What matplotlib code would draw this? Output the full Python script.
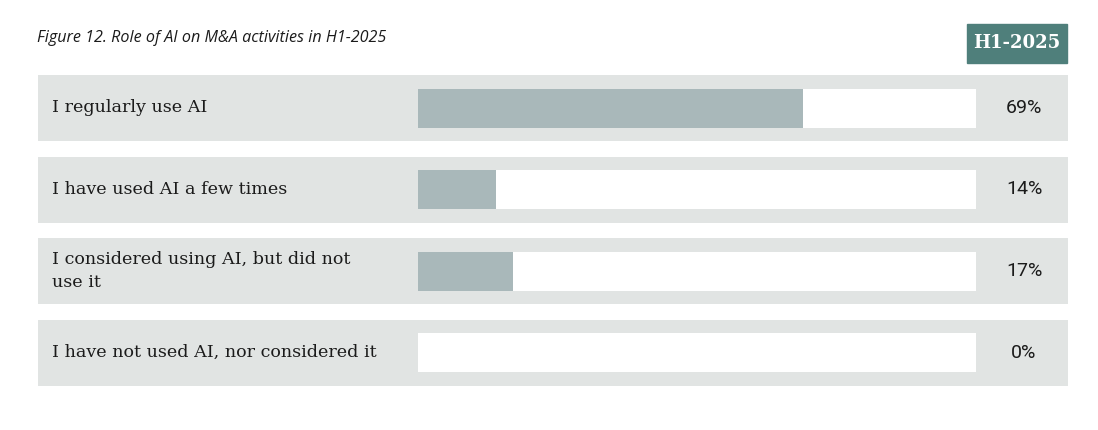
import matplotlib
matplotlib.use("Agg")
import matplotlib.pyplot as plt
from matplotlib.patches import Rectangle

# ---- data ----
categories = [
    "I regularly use AI",
    "I have used AI a few times",
    "I considered using AI, but did not\nuse it",
    "I have not used AI, nor considered it",
]
values = [69, 14, 17, 0]
period = "H1-2025"
title = "Figure 12. Role of AI on M&A activities in H1-2025"

# colours
BAND = "#e1e4e3"
BAR = "#a9b8ba"
HEAD = "#4f7f7b"
TXT = "#1b1b1b"

W, H = 1098, 430
fig = plt.figure(figsize=(W / 100, H / 100), dpi=100)
ax = fig.add_axes([0, 0, 1, 1])

# x in percent units: track 418px -> 0 %, 976px -> 100 %
px = 5.58
x0 = 418
ax.set_xlim((0 - x0) / px, (W - x0) / px)
# y in row units: row centre 108px, spacing 81.5px
row0, step = 108, 81.5
ax.set_ylim((H - row0) / step, (0 - row0) / step)
ax.axis("off")

band_left = (38 - x0) / px
band_right = (1068 - x0) / px
ys = list(range(len(categories)))

ax.barh(ys, band_right - band_left, left=band_left, height=66 / step,
        color=BAND, zorder=1)
ax.barh(ys, 100, left=0, height=39 / step, color="white", zorder=2)
ax.barh(ys, values, left=0, height=39 / step, color=BAR, zorder=3)

lab_x = (52 - x0) / px
pct_x = (1024 - x0) / px
for y, cat, v in zip(ys, categories, values):
    ax.text(lab_x, y, cat, ha="left", va="center", fontsize=12.6,
            family="DejaVu Serif", color=TXT, linespacing=1.4, zorder=4)
    ax.text(pct_x, y, f"{v}%", ha="center", va="center", fontsize=14,
            family="Roboto", color=TXT, zorder=4)

# header tag
hx0, hx1 = (967 - x0) / px, (1067 - x0) / px
hy0, hy1 = (24 - row0) / step, (63 - row0) / step
ax.add_patch(Rectangle((hx0, hy0), hx1 - hx0, hy1 - hy0, color=HEAD, zorder=2))
ax.text((hx0 + hx1) / 2, (hy0 + hy1) / 2, period, ha="center", va="center",
        fontsize=13, family="DejaVu Serif", weight="bold", color="white", zorder=4)

# title
fig.text(37 / W, 1 - 38 / H, title, ha="left", va="center", fontsize=11.6,
         family="Open Sans", style="italic", color=TXT)

fig.savefig("out.png", dpi=100)
